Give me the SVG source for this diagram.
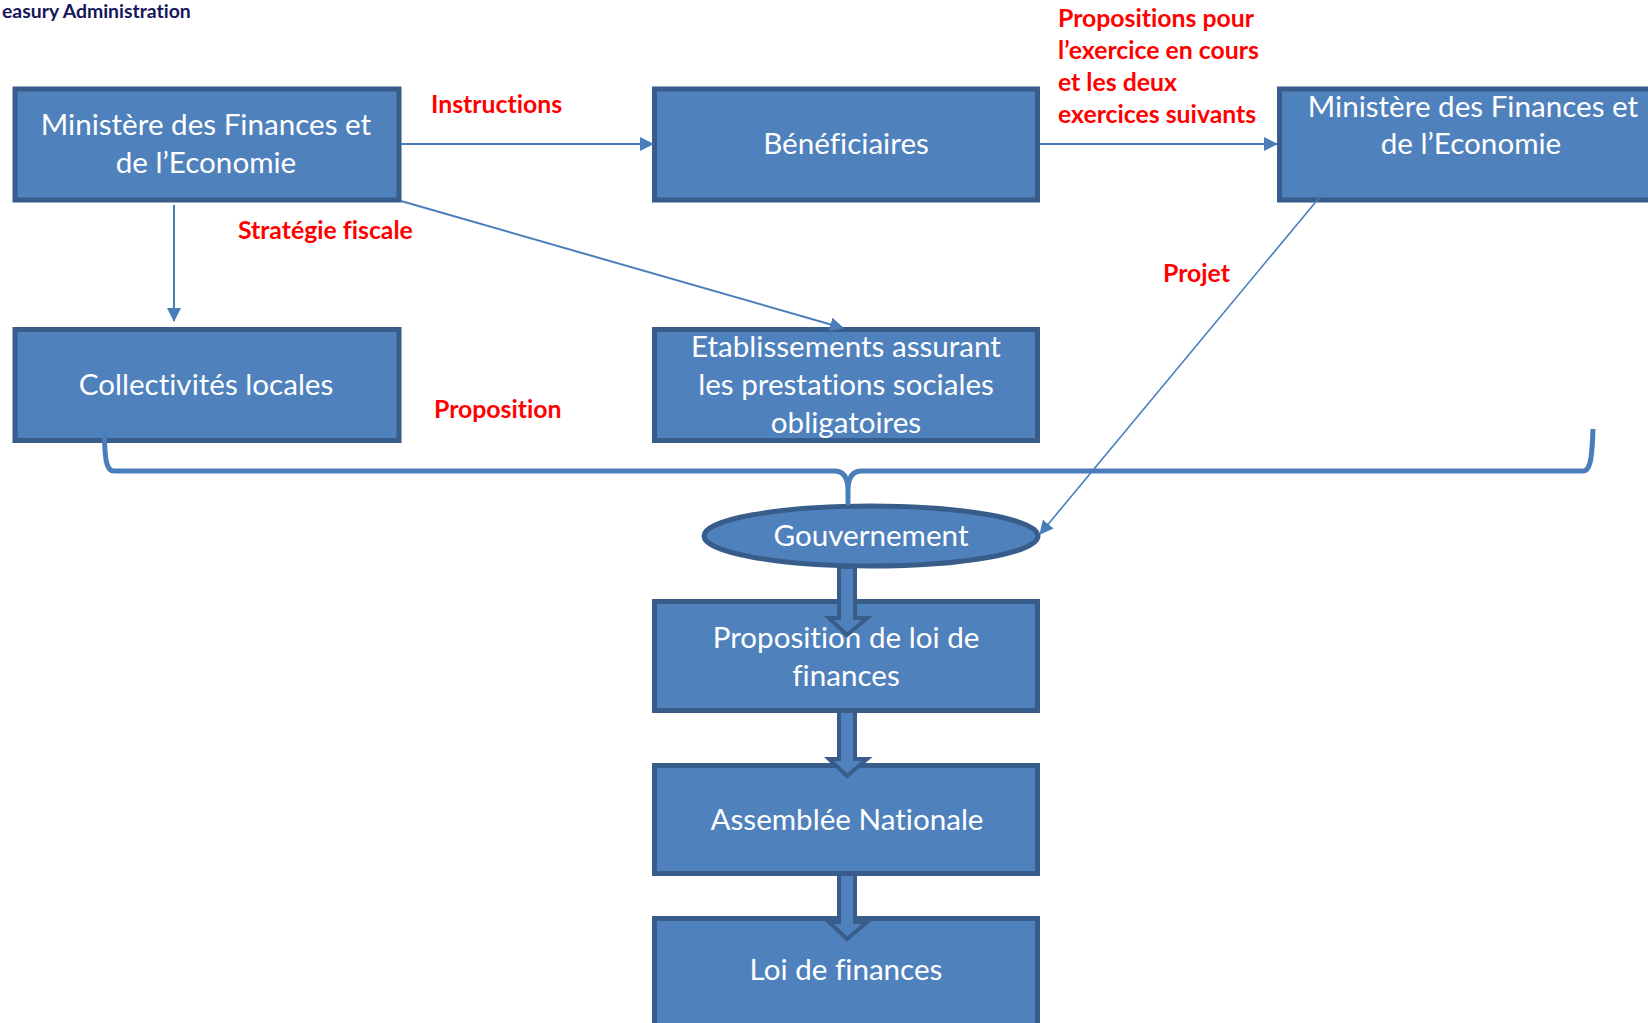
<svg xmlns="http://www.w3.org/2000/svg" width="1648" height="1023" viewBox="0 0 1648 1023">
<style>
text{font-variant-ligatures:none;font-feature-settings:"liga" 0}
.box{fill:#4F81BD;stroke:#385D8A;stroke-width:5}
.bt{font-family:Lato,"Noto Sans",sans-serif;font-size:29.6px;fill:#FFFFFF;text-anchor:middle}
.lbl{font-family:Lato,"Noto Sans",sans-serif;font-size:24.8px;font-weight:bold;fill:#FF0000}
.ln{fill:none;stroke:#4A7EBB;stroke-width:2}
.brace{fill:none;stroke:#4A7EBB;stroke-width:5;stroke-linejoin:round}
.blk{fill:#4F81BD;stroke:#385D8A;stroke-width:4;stroke-linejoin:miter}
</style>
<defs>
<marker id="ah" markerUnits="userSpaceOnUse" markerWidth="14" markerHeight="14" viewBox="0 0 14 14" refX="13" refY="7" orient="auto">
<path d="M0,0 L14,7 L0,14 Z" fill="#4A7EBB"/>
</marker>
</defs>
<rect width="1648" height="1023" fill="#FFFFFF"/>
<text x="2" y="18" style="font-family:Lato,'Noto Sans',sans-serif;font-size:19.4px;font-weight:bold;fill:#16165A">easury Administration</text>

<g id="n-minfin-left">
<rect class="box" x="15" y="89" width="384" height="111"/>
<text class="bt" x="206" y="135">Ministère des Finances et</text>
<text class="bt" x="206" y="173">de l’Economie</text>
</g>
<g id="n-beneficiaires">
<rect class="box" x="654.5" y="89" width="383" height="111"/>
<text class="bt" x="846" y="154">Bénéficiaires</text>
</g>
<g id="n-minfin-right">
<rect class="box" x="1279.5" y="89" width="400" height="111"/>
<text class="bt" x="1473" y="117">Ministère des Finances et</text>
<text class="bt" x="1471" y="154">de l’Economie</text>
</g>
<g id="n-collectivites">
<rect class="box" x="15" y="329.5" width="384" height="111"/>
<text class="bt" x="206" y="395">Collectivités locales</text>
</g>
<g id="n-etablissements">
<rect class="box" x="654.5" y="329.5" width="383" height="111"/>
<text class="bt" x="846" y="357">Etablissements assurant</text>
<text class="bt" x="846" y="395">les prestations sociales</text>
<text class="bt" x="846" y="433">obligatoires</text>
</g>
<g id="n-gouvernement">
<ellipse class="box" cx="871" cy="536" rx="167" ry="30"/>
<text class="bt" x="871" y="546">Gouvernement</text>
</g>
<g id="n-proposition-loi">
<rect class="box" x="654.5" y="601.5" width="383" height="109"/>
<text class="bt" x="846" y="648">Proposition de loi de</text>
<text class="bt" x="846" y="686">finances</text>
</g>
<g id="n-assemblee">
<rect class="box" x="654.5" y="765.5" width="383" height="108"/>
<text class="bt" x="847" y="830">Assemblée Nationale</text>
</g>
<g id="n-loi">
<rect class="box" x="654.5" y="918.5" width="383" height="120"/>
<text class="bt" x="846" y="980">Loi de finances</text>
</g>

<g id="connectors">
<line class="ln" x1="401" y1="144" x2="653" y2="144" marker-end="url(#ah)"/>
<line class="ln" x1="1040" y1="144" x2="1277" y2="144" marker-end="url(#ah)"/>
<line class="ln" x1="174" y1="205" x2="174" y2="321" marker-end="url(#ah)"/>
<line class="ln" x1="401" y1="201" x2="843" y2="328" marker-end="url(#ah)"/>
<line class="ln" x1="1324" y1="192" x2="1040" y2="534" marker-end="url(#ah)" style="stroke-width:1.6"/>
<path class="brace" d="M104,429 C105,460 106,471 114,471 L834,471 Q848,471 848,490 L848,503 L848,490 Q848,471 862,471 L1583,471 C1590,471 1592,460 1593,429"/>
<path class="blk" d="M839,567 L855,567 L855,618 L867,618 L847,635 L829,618 L839,618 Z"/>
<path class="blk" d="M839,711 L855,711 L855,759 L867,759 L847,776 L829,759 L839,759 Z"/>
<path class="blk" d="M839,874 L855,874 L855,922 L867,922 L847,939 L829,922 L839,922 Z"/>
</g>

<g id="labels">
<text class="lbl" x="431" y="113">Instructions</text>
<text class="lbl" x="238" y="239">Stratégie fiscale</text>
<text class="lbl" x="434" y="418">Proposition</text>
<text class="lbl" x="1163" y="282">Projet</text>
<text class="lbl" x="1058" y="27">Propositions pour</text>
<text class="lbl" x="1058" y="59">l’exercice en cours</text>
<text class="lbl" x="1058" y="91">et les deux</text>
<text class="lbl" x="1058" y="123">exercices suivants</text>
</g>
</svg>
